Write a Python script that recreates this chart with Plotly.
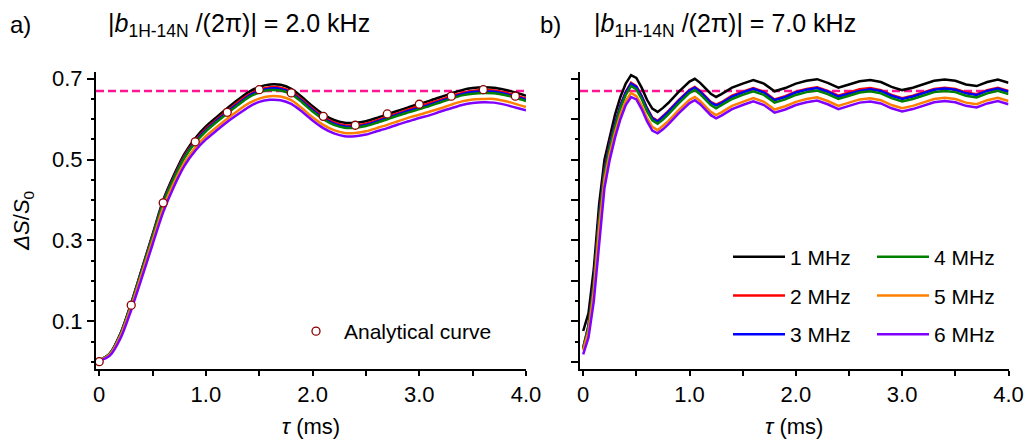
import plotly.graph_objects as go

# ---------------- data ----------------
freq_labels = ["1 MHz", "2 MHz", "3 MHz", "4 MHz", "5 MHz", "6 MHz"]
colors = ["#000000", "#FF0000", "#0000FF", "#008000", "#FF8000", "#8000FF"]

# panel a  (|b|/(2pi) = 2.0 kHz)
tau_a = [0.0, 0.1, 0.2, 0.3, 0.4, 0.5, 0.6, 0.7, 0.8, 0.9,
         1.0, 1.1, 1.2, 1.3, 1.4, 1.5, 1.6, 1.7, 1.8, 1.9,
         2.0, 2.1, 2.2, 2.3, 2.4, 2.5, 2.6, 2.7, 2.8, 2.9,
         3.0, 3.1, 3.2, 3.3, 3.4, 3.5, 3.6, 3.7, 3.8, 3.9,
         4.0]
a_1MHz = [0.003, 0.02, 0.07, 0.145, 0.23, 0.315, 0.40, 0.462, 0.515, 0.553,
          0.582, 0.605, 0.627, 0.648, 0.667, 0.680, 0.686, 0.685, 0.675, 0.655,
          0.632, 0.612, 0.598, 0.591, 0.591, 0.595, 0.603, 0.612, 0.621, 0.630,
          0.638, 0.646, 0.655, 0.664, 0.672, 0.677, 0.679, 0.678, 0.673, 0.666,
          0.658]
a_2MHz = [0.003, 0.02, 0.069, 0.144, 0.228, 0.312, 0.396, 0.457, 0.510, 0.547,
          0.576, 0.599, 0.621, 0.642, 0.660, 0.673, 0.679, 0.678, 0.668, 0.648,
          0.626, 0.606, 0.592, 0.585, 0.585, 0.589, 0.597, 0.606, 0.615, 0.624,
          0.632, 0.640, 0.648, 0.657, 0.665, 0.670, 0.672, 0.671, 0.666, 0.659,
          0.651]
a_3MHz = [0.003, 0.02, 0.069, 0.143, 0.227, 0.310, 0.394, 0.455, 0.507, 0.545,
          0.573, 0.596, 0.618, 0.638, 0.657, 0.670, 0.676, 0.675, 0.665, 0.645,
          0.623, 0.603, 0.589, 0.582, 0.582, 0.586, 0.594, 0.603, 0.612, 0.621,
          0.628, 0.636, 0.645, 0.654, 0.662, 0.667, 0.669, 0.668, 0.663, 0.656,
          0.648]
a_4MHz = [0.003, 0.02, 0.068, 0.142, 0.225, 0.309, 0.392, 0.453, 0.505, 0.542,
          0.570, 0.593, 0.614, 0.635, 0.654, 0.666, 0.672, 0.671, 0.662, 0.642,
          0.619, 0.600, 0.586, 0.579, 0.579, 0.583, 0.591, 0.600, 0.609, 0.617,
          0.625, 0.633, 0.642, 0.651, 0.659, 0.663, 0.665, 0.664, 0.660, 0.653,
          0.645]
a_5MHz = [0.003, 0.018, 0.064, 0.136, 0.218, 0.300, 0.381, 0.442, 0.493, 0.530,
          0.558, 0.580, 0.601, 0.621, 0.639, 0.651, 0.657, 0.656, 0.647, 0.627,
          0.605, 0.586, 0.573, 0.566, 0.566, 0.570, 0.578, 0.586, 0.595, 0.604,
          0.611, 0.619, 0.627, 0.636, 0.644, 0.649, 0.650, 0.650, 0.645, 0.638,
          0.630]
a_6MHz = [0.002, 0.015, 0.058, 0.128, 0.208, 0.290, 0.370, 0.433, 0.485, 0.522,
          0.550, 0.572, 0.593, 0.612, 0.630, 0.643, 0.648, 0.647, 0.638, 0.619,
          0.597, 0.578, 0.565, 0.558, 0.558, 0.562, 0.570, 0.578, 0.587, 0.595,
          0.603, 0.610, 0.619, 0.627, 0.635, 0.640, 0.642, 0.641, 0.636, 0.629,
          0.622]

tau_analytical = [0.0, 0.3, 0.6, 0.9, 1.2, 1.5, 1.8, 2.1, 2.4, 2.7, 3.0, 3.3, 3.6, 3.9]
analytical = [0.0, 0.14, 0.393, 0.544, 0.617, 0.673, 0.665, 0.607, 0.585, 0.613,
              0.637, 0.657, 0.673, 0.657]

# panel b  (|b|/(2pi) = 7.0 kHz)
tau_b = [0.0, 0.05, 0.1, 0.15, 0.2, 0.25, 0.3, 0.35, 0.4, 0.45,
         0.5, 0.55, 0.6, 0.65, 0.7, 0.75, 0.8, 0.9, 1.0, 1.05,
         1.1, 1.2, 1.25, 1.3, 1.4, 1.5, 1.6, 1.7, 1.8, 1.9,
         2.0, 2.1, 2.2, 2.3, 2.4, 2.5, 2.6, 2.7, 2.8, 2.9,
         3.0, 3.1, 3.2, 3.3, 3.4, 3.5, 3.6, 3.7, 3.8, 3.9,
         4.0]
b_1MHz = [0.076, 0.12, 0.23, 0.39, 0.50, 0.56, 0.612, 0.655, 0.688, 0.709,
          0.702, 0.678, 0.648, 0.626, 0.618, 0.628, 0.640, 0.668, 0.693, 0.700,
          0.690, 0.663, 0.655, 0.662, 0.678, 0.688, 0.697, 0.688, 0.669, 0.677,
          0.688, 0.695, 0.699, 0.690, 0.678, 0.686, 0.694, 0.697, 0.692, 0.680,
          0.672, 0.678, 0.687, 0.695, 0.698, 0.695, 0.686, 0.682, 0.692, 0.698,
          0.690]
b_2MHz = [0.035, 0.09, 0.20, 0.36, 0.475, 0.54, 0.59, 0.635, 0.668, 0.690,
          0.682, 0.658, 0.628, 0.604, 0.596, 0.607, 0.620, 0.648, 0.673, 0.680,
          0.670, 0.643, 0.636, 0.642, 0.658, 0.668, 0.677, 0.668, 0.649, 0.657,
          0.668, 0.675, 0.679, 0.670, 0.658, 0.666, 0.674, 0.677, 0.672, 0.660,
          0.652, 0.658, 0.667, 0.675, 0.678, 0.675, 0.666, 0.662, 0.672, 0.678,
          0.670]
b_3MHz = [0.034, 0.088, 0.198, 0.357, 0.472, 0.537, 0.588, 0.633, 0.666, 0.688,
          0.680, 0.656, 0.626, 0.602, 0.594, 0.605, 0.618, 0.646, 0.671, 0.678,
          0.668, 0.641, 0.634, 0.640, 0.656, 0.666, 0.675, 0.666, 0.647, 0.655,
          0.666, 0.673, 0.677, 0.668, 0.656, 0.663, 0.670, 0.674, 0.670, 0.658,
          0.650, 0.656, 0.665, 0.673, 0.676, 0.673, 0.664, 0.660, 0.670, 0.676,
          0.668]
b_4MHz = [0.032, 0.085, 0.19, 0.35, 0.465, 0.530, 0.582, 0.627, 0.660, 0.682,
          0.674, 0.650, 0.620, 0.597, 0.589, 0.599, 0.612, 0.640, 0.665, 0.672,
          0.662, 0.635, 0.627, 0.634, 0.650, 0.660, 0.669, 0.660, 0.641, 0.649,
          0.660, 0.667, 0.671, 0.662, 0.650, 0.658, 0.666, 0.669, 0.664, 0.652,
          0.644, 0.650, 0.659, 0.667, 0.670, 0.667, 0.658, 0.654, 0.664, 0.670,
          0.662]
b_5MHz = [0.028, 0.075, 0.175, 0.33, 0.45, 0.515, 0.567, 0.612, 0.645, 0.665,
          0.657, 0.633, 0.603, 0.581, 0.573, 0.583, 0.595, 0.623, 0.648, 0.655,
          0.645, 0.618, 0.610, 0.617, 0.633, 0.643, 0.652, 0.643, 0.624, 0.632,
          0.643, 0.650, 0.654, 0.645, 0.633, 0.641, 0.649, 0.652, 0.647, 0.635,
          0.627, 0.633, 0.642, 0.650, 0.653, 0.650, 0.641, 0.637, 0.647, 0.653,
          0.645]
b_6MHz = [0.018, 0.06, 0.15, 0.30, 0.43, 0.50, 0.555, 0.600, 0.635, 0.655,
          0.649, 0.625, 0.595, 0.572, 0.565, 0.575, 0.587, 0.615, 0.640, 0.647,
          0.637, 0.610, 0.602, 0.609, 0.625, 0.635, 0.644, 0.635, 0.616, 0.624,
          0.635, 0.642, 0.646, 0.637, 0.625, 0.633, 0.641, 0.644, 0.639, 0.627,
          0.619, 0.625, 0.634, 0.642, 0.645, 0.642, 0.633, 0.629, 0.639, 0.645,
          0.637]

limit_value = 0.67

x_tickvals = [0, 1, 2, 3, 4]
x_ticktext = ["0", "1.0", "2.0", "3.0", "4.0"]
y_label_vals = [0.1, 0.3, 0.5, 0.7]
y_label_text = ["0.1", "0.3", "0.5", "0.7"]
y_long_unlabeled = [0.0, 0.2, 0.4, 0.6]
y_all_major = [0.0, 0.1, 0.2, 0.3, 0.4, 0.5, 0.6, 0.7]

# ---------------- figure ----------------
FONT = "Liberation Sans, Arial, Helvetica, sans-serif"
W, H = 1029, 441
Y_RANGE = [-0.018, 0.718]
Y_DOM = [72 / H, 369.5 / H]

series_a = [a_1MHz, a_2MHz, a_3MHz, a_4MHz, a_5MHz, a_6MHz]
series_b = [b_1MHz, b_2MHz, b_3MHz, b_4MHz, b_5MHz, b_6MHz]

fig = go.Figure()
for lab, col, ya in zip(freq_labels, colors, series_a):
    fig.add_trace(go.Scatter(x=tau_a, y=ya, mode="lines", name=lab,
                             line=dict(color=col, width=2.5, shape="spline", smoothing=0.8),
                             showlegend=False, xaxis="x", yaxis="y"))
for i, (lab, col, yb) in enumerate(zip(freq_labels, colors, series_b)):
    fig.add_trace(go.Scatter(x=tau_b, y=yb, mode="lines", name=lab,
                             line=dict(color=col, width=2.5),
                             legend="legend" if i < 3 else "legend2",
                             legendgroup=lab,
                             showlegend=True, xaxis="x2", yaxis="y2"))
fig.add_trace(go.Scatter(x=tau_analytical, y=analytical, mode="markers",
                         name="Analytical curve",
                         marker=dict(symbol="circle", size=8, color="white",
                                     line=dict(color="#8B0000", width=1.3)),
                         legend="legend3", showlegend=True, xaxis="x", yaxis="y"))

axis_common = dict(showline=True, linewidth=2, linecolor="black", mirror=False,
                   showgrid=False, zeroline=False, ticks="outside",
                   tickwidth=1.5, tickcolor="black", automargin=False,
                   tickfont=dict(family=FONT, size=22, color="black"))

xa = dict(axis_common, range=[-0.03, 4.0], tickmode="array", tickvals=x_tickvals,
          ticktext=x_ticktext, ticklen=5,
          minor=dict(dtick=0.5, tick0=0, ticks="outside", ticklen=5, tickwidth=1.5,
                     tickcolor="black"),
          title=dict(text="<i>τ</i> (ms)", font=dict(family=FONT, size=22, color="black"),
                     standoff=12))
ya_ = dict(axis_common, range=Y_RANGE, tickmode="array", ticklen=7,
           minor=dict(dtick=0.05, tick0=0, ticks="outside", ticklen=3.5, tickwidth=1.5,
                      tickcolor="black"))

fig.update_layout(
    width=W, height=H,
    margin=dict(l=0, r=0, t=0, b=0, autoexpand=False),
    paper_bgcolor="white", plot_bgcolor="white",
    font=dict(family=FONT, size=22, color="black"),
    xaxis=dict(xa, domain=[96 / W, 526 / W], anchor="y"),
    yaxis=dict(ya_, domain=Y_DOM, anchor="x", tickvals=y_label_vals, ticktext=y_label_text,
               title=dict(text="<i>ΔS</i>/<i>S</i><sub>0</sub>",
                          font=dict(family=FONT, size=22, color="black"), standoff=16)),
    yaxis3=dict(range=Y_RANGE, domain=Y_DOM, overlaying="y", anchor="x", side="left",
                showline=False, showgrid=False, zeroline=False, showticklabels=False,
                automargin=False, tickmode="array", tickvals=y_long_unlabeled,
                ticks="outside", ticklen=7, tickwidth=1.5, tickcolor="black"),
    xaxis2=dict(xa, domain=[580 / W, 1008.5 / W], anchor="y2"),
    yaxis2=dict(ya_, domain=Y_DOM, anchor="x2", tickvals=y_all_major,
                showticklabels=False),
    legend=dict(x=728 / W, y=1 - 236.5 / H, xanchor="left", yanchor="top",
                bgcolor="rgba(0,0,0,0)", borderwidth=0, tracegroupgap=8.5, itemwidth=52,
                font=dict(family=FONT, size=21, color="black")),
    legend2=dict(x=872 / W, y=1 - 236.5 / H, xanchor="left", yanchor="top",
                 bgcolor="rgba(0,0,0,0)", borderwidth=0, tracegroupgap=8.5, itemwidth=52,
                 font=dict(family=FONT, size=21, color="black")),
    legend3=dict(x=288 / W, y=1 - 311 / H, xanchor="left", yanchor="top",
                 bgcolor="rgba(0,0,0,0)", borderwidth=0, itemwidth=46,
                 font=dict(family=FONT, size=21, color="black")),
    shapes=[
        dict(type="line", xref="x domain", yref="y", x0=0, x1=1,
             y0=limit_value, y1=limit_value,
             line=dict(color="#FF1493", width=2.5, dash="8px,4px"), layer="below"),
        dict(type="line", xref="x2 domain", yref="y2", x0=0, x1=1,
             y0=limit_value, y1=limit_value,
             line=dict(color="#FF1493", width=2.5, dash="8px,4px"), layer="below"),
    ],
    annotations=[
        dict(text="a)", xref="paper", yref="paper", x=8 / W, y=1 - 25 / H,
             xanchor="left", yanchor="middle", showarrow=False,
             font=dict(family=FONT, size=24, color="black")),
        dict(text="|<i>b</i><sub>1H-14N</sub> /(2π)| = 2.0 kHz", xref="paper", yref="paper",
             x=106 / W, y=1 - 25 / H, xanchor="left", yanchor="middle", showarrow=False,
             font=dict(family=FONT, size=25, color="black")),
        dict(text="b)", xref="paper", yref="paper", x=538 / W, y=1 - 25 / H,
             xanchor="left", yanchor="middle", showarrow=False,
             font=dict(family=FONT, size=24, color="black")),
        dict(text="|<i>b</i><sub>1H-14N</sub> /(2π)| = 7.0 kHz", xref="paper", yref="paper",
             x=592 / W, y=1 - 25 / H, xanchor="left", yanchor="middle", showarrow=False,
             font=dict(family=FONT, size=25, color="black")),
    ],
)

fig.write_html("out.html", config={"displayModeBar": False},
               post_script="document.body.style.margin='0px';document.body.style.padding='0px';")
